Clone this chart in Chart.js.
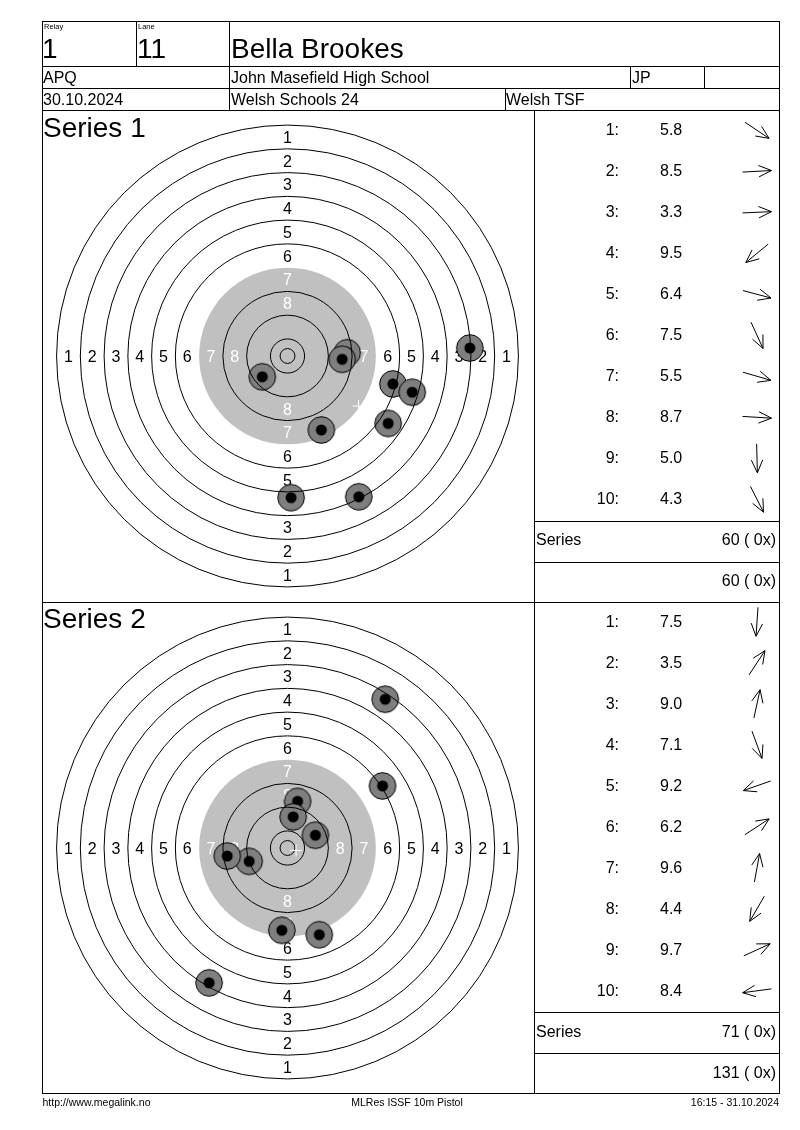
<!DOCTYPE html>
<html>
<head>
<meta charset="utf-8">
<title>Bella Brookes - ISSF 10m Pistol</title>
<script src="https://cdn.jsdelivr.net/npm/chart.js@4.4.1/dist/chart.umd.min.js"></script>
<style>
  body { margin: 0; background: #fff; }
  #page {
    position: relative;
    width: 800px;
    height: 1130px;
    overflow: hidden;
    font-family: "Liberation Sans", Arial, sans-serif;
    color: #000;
  }
  .h, .v { position: absolute; background: #000; z-index: 2; }
  .h { height: 1px; }
  .v { width: 1px; }
  .t { position: absolute; white-space: nowrap; line-height: 1; z-index: 3; }
  .tgt { position: absolute; z-index: 1; }
  #arrows { position: absolute; left: 0; top: 0; z-index: 3; }
</style>
</head>
<body>
<div id="page">
  <div class="tgt" style="left:42px;top:110px;width:491px;height:492px;">
    <canvas id="target1" width="491" height="492"></canvas>
  </div>
  <div class="tgt" style="left:42px;top:602px;width:491px;height:492px;">
    <canvas id="target2" width="491" height="492"></canvas>
  </div>
  <svg id="arrows" width="800" height="1130"></svg>
</div>

<script>
// Shot positions in mm from the target centre (x right, y up) and the decimal scores
const series1X = [33.9, 20.1, 61.4, -8.5, 35.5, 11.4, 42.0, 18.4, 1.2, 24.0];
const series1Y = [-22.7, 1.1, 2.7, -7.0, -9.4, -24.9, -12.2, -1.1, -47.7, -47.4];
const series1Scores = [5.8, 8.5, 3.3, 9.5, 6.4, 7.5, 5.5, 8.7, 5.0, 4.3];

const series2X = [-1.9, 32.9, 3.4, 10.7, -12.9, 32.0, 1.9, -26.4, 9.4, -20.3];
const series2Y = [-27.7, 50.1, 15.7, -29.2, -4.5, 20.9, 10.5, -45.4, 4.3, -2.7];
const series2Scores = [7.5, 3.5, 9.0, 7.1, 9.2, 6.2, 9.6, 4.4, 9.7, 8.4];

// ISSF 10m pistol target rings (value -> radius in mm) and printed ring numbers
const ringValues = [1, 2, 3, 4, 5, 6, 7, 8, 9, 10];
const ringLabels = ['1', '2', '3', '4', '5', '6', '7', '8'];
const innerTenRadius = 2.5;
const blackZoneValue = 7;

const page = document.getElementById('page');
const svg = document.getElementById('arrows');

const ringRadius = n => 5.75 + 8 * (10 - n);

// helpers for the printed form
function hline(y, x1, x2) {
  const d = document.createElement('div');
  d.className = 'h';
  d.style.top = y + 'px';
  d.style.left = x1 + 'px';
  d.style.width = (x2 - x1 + 1) + 'px';
  page.appendChild(d);
}
function vline(x, y1, y2) {
  const d = document.createElement('div');
  d.className = 'v';
  d.style.left = x + 'px';
  d.style.top = y1 + 'px';
  d.style.height = (y2 - y1 + 1) + 'px';
  page.appendChild(d);
}
function txt(str, x, base, size, align) {
  const s = document.createElement('div');
  s.className = 't';
  s.textContent = str;
  s.style.fontSize = size + 'px';
  s.style.top = (base - 0.8465 * size) + 'px';
  if (align === 'right') {
    s.style.right = (800 - x) + 'px';
  } else if (align === 'center') {
    s.style.left = x + 'px';
    s.style.transform = 'translateX(-50%)';
  } else {
    s.style.left = x + 'px';
  }
  page.appendChild(s);
}
function svgLine(x1, y1, x2, y2) {
  const l = document.createElementNS('http://www.w3.org/2000/svg', 'line');
  l.setAttribute('x1', x1); l.setAttribute('y1', y1);
  l.setAttribute('x2', x2); l.setAttribute('y2', y2);
  l.setAttribute('stroke', '#000');
  l.setAttribute('stroke-width', '1');
  svg.appendChild(l);
}
function arrow(cx, cy, dx, dy) {
  const a = Math.atan2(-dy, dx);
  const L = 29, H = 14, S = 0.42;
  const ux = Math.cos(a), uy = Math.sin(a);
  const tx = cx + ux * L / 2, ty = cy + uy * L / 2;
  svgLine(cx - ux * L / 2, cy - uy * L / 2, tx, ty);
  svgLine(tx, ty, tx - H * Math.cos(a + S), ty - H * Math.sin(a + S));
  svgLine(tx, ty, tx - H * Math.cos(a - S), ty - H * Math.sin(a - S));
}

// form grid
[21, 66, 88, 110, 602, 1093].forEach(y => hline(y, 42, 779));
[521, 562, 1012, 1053].forEach(y => hline(y, 534, 779));
vline(42, 21, 1093);
vline(779, 21, 1093);
vline(136, 21, 66);
vline(229, 21, 110);
vline(630, 66, 88);
vline(704, 66, 88);
vline(505, 88, 110);
vline(534, 110, 1093);

// header
txt('Relay', 44, 29, 7.5);
txt('1', 42, 59, 28);
txt('Lane', 138, 29, 7.5);
txt('11', 137, 59, 28);
txt('Bella Brookes', 231, 59, 28);
txt('APQ', 43, 83.7, 16);
txt('John Masefield High School', 231, 83.7, 16);
txt('JP', 632, 83.7, 16);
txt('30.10.2024', 43, 105.3, 16);
txt('Welsh Schools 24', 231, 105.3, 16);
txt('Welsh TSF', 506, 105.3, 16);

// footer
txt('http://www.megalink.no', 42.5, 1106, 10.5);
txt('MLRes ISSF 10m Pistol', 407, 1106, 10.5, 'center');
txt('16:15 - 31.10.2024', 779, 1106, 10.5, 'right');

// shot marker used as point style
function shotMarker() {
  const c = document.createElement('canvas');
  c.width = 30; c.height = 30;
  const g = c.getContext('2d');
  g.beginPath();
  g.arc(15, 15, 13.3, 0, Math.PI * 2);
  g.fillStyle = '#7f7f7f';
  g.fill();
  g.lineWidth = 1;
  g.strokeStyle = '#000';
  g.stroke();
  g.beginPath();
  g.arc(15, 15, 5.5, 0, Math.PI * 2);
  g.fillStyle = '#000';
  g.fill();
  return c;
}
const marker = shotMarker();

const targetFace = {
  id: 'targetFace',
  beforeDatasetsDraw(chart) {
    const { ctx, scales: { x, y } } = chart;
    const cx = x.getPixelForValue(0), cy = y.getPixelForValue(0);
    const k = x.getPixelForValue(1) - cx;
    ctx.save();
    // black zone (shown grey)
    ctx.beginPath();
    ctx.arc(cx, cy, ringRadius(blackZoneValue) * k, 0, Math.PI * 2);
    ctx.fillStyle = '#c0c0c0';
    ctx.fill();
    // ring numbers
    ctx.font = '16px "Liberation Sans", Arial, sans-serif';
    ctx.textAlign = 'center';
    ctx.textBaseline = 'alphabetic';
    ringLabels.forEach(lab => {
      const n = Number(lab);
      const r = (ringRadius(n) - 4) * k;
      ctx.fillStyle = n >= blackZoneValue ? '#fff' : '#000';
      const off = 5.8;
      ctx.fillText(lab, cx - r, cy + off);
      ctx.fillText(lab, cx + r, cy + off);
      ctx.fillText(lab, cx, cy - r + off);
      ctx.fillText(lab, cx, cy + r + off);
    });
    ctx.restore();
  },
  afterDatasetsDraw(chart) {
    const { ctx, scales: { x, y } } = chart;
    const cx = x.getPixelForValue(0), cy = y.getPixelForValue(0);
    const k = x.getPixelForValue(1) - cx;
    ctx.save();
    ctx.strokeStyle = '#000';
    ctx.lineWidth = 1;
    const radii = ringValues.filter(n => n !== blackZoneValue).map(ringRadius).concat([innerTenRadius]);
    radii.forEach(r => {
      ctx.beginPath();
      ctx.arc(cx, cy, r * k, 0, Math.PI * 2);
      ctx.stroke();
    });
    // mean point of impact
    const pts = chart.data.datasets[0].data;
    const mx = pts.reduce((s, p) => s + p.x, 0) / pts.length;
    const my = pts.reduce((s, p) => s + p.y, 0) / pts.length;
    const px = x.getPixelForValue(mx), py = y.getPixelForValue(my);
    ctx.strokeStyle = '#fff';
    ctx.beginPath();
    ctx.moveTo(px - 6, py); ctx.lineTo(px + 6, py);
    ctx.moveTo(px, py - 6); ctx.lineTo(px, py + 6);
    ctx.stroke();
    ctx.restore();
  }
};

function makeTarget(id, xs, ys) {
  const pts = xs.map((v, i) => ({ x: v, y: ys[i] }));
  return new Chart(document.getElementById(id), {
    type: 'scatter',
    data: {
      datasets: [{
        data: pts,
        pointStyle: marker,
        pointRadius: 13,
        pointHoverRadius: 13,
        clip: false
      }]
    },
    options: {
      responsive: false,
      animation: false,
      layout: { padding: 0, autoPadding: false },
      plugins: {
        legend: { display: false },
        tooltip: { enabled: false },
        title: { display: false }
      },
      scales: {
        x: { type: 'linear', min: -82.66, max: 82.66, display: false },
        y: { type: 'linear', min: -82.83, max: 82.83, display: false }
      }
    },
    plugins: [targetFace]
  });
}

makeTarget('target1', series1X, series1Y);
makeTarget('target2', series2X, series2Y);

// series panels
function seriesPanel(title, top, xs, ys, scores, runningTotal) {
  txt(title, 43, top + 27.3, 28);
  scores.forEach((s, i) => {
    const base = top + 26 + 41 * i;
    txt((i + 1) + ':', 619, base, 16, 'right');
    txt(s.toFixed(1), 660, base, 16);
    arrow(757, base - 5.7, xs[i], ys[i]);
  });
  const total = scores.reduce((a, s) => a + Math.floor(s), 0);
  txt('Series', 536, top + 435.7, 16);
  txt(total + ' ( 0x)', 776, top + 435.7, 16, 'right');
  txt((runningTotal + total) + ' ( 0x)', 776, top + 476.7, 16, 'right');
  return runningTotal + total;
}

let running = 0;
running = seriesPanel('Series 1', 110, series1X, series1Y, series1Scores, running);
running = seriesPanel('Series 2', 601.5, series2X, series2Y, series2Scores, running);
</script>
</body>
</html>
